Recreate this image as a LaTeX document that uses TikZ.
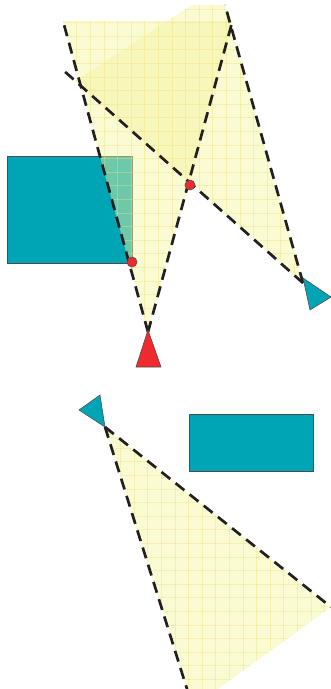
\documentclass[tikz,border=0pt]{standalone}
\usepackage{tikz}
\definecolor{obstacle}{HTML}{00A5B5}
\definecolor{conelight}{RGB}{244,243,157}
\definecolor{conegrid}{RGB}{236,226,120}
\definecolor{camred}{HTML}{EE2A2E}
\definecolor{ink}{RGB}{35,31,32}

\begin{document}
\begin{tikzpicture}[
  x=0.03cm,y=-0.03cm,
  obst/.style={fill=obstacle,draw=black!70,line width=0.5pt},
  conefill/.style={fill=conelight,fill opacity=0.45},
  gridln/.style={draw=conegrid,line width=0.5pt,opacity=0.4},
  ray/.style={draw=ink,line width=2.3pt,dash pattern=on 9.6pt off 5.8pt},
  camtri/.style={draw=ink!80,line width=0.5pt},
  hit/.style={circle,fill=camred,draw=ink!80,line width=0.5pt,inner sep=0pt,minimum size=8.6pt},
]
\useasboundingbox (0,0) rectangle (331,689);

% camera apexes and far ends of the rays
\coordinate (redcam) at (148,332);
\coordinate (redL) at (63,21);
\coordinate (redR) at (233,19);
\coordinate (rcam) at (303,283);
\coordinate (rcamL) at (63,70);
\coordinate (rcamR) at (225,5);
\coordinate (bcam) at (105,427);
\coordinate (bcamL) at (187,689);
\coordinate (bcamR) at (331,607);

% obstacles
\draw[obst] (7,156) rectangle (132,263);
\draw[obst] (189,414) rectangle (313,471);

% view cones
\fill[conefill] (redcam) -- (63,21) -- (233,21) -- cycle;
\fill[conefill] (rcam) -- (75,81) -- (192,5) -- (225,5) -- cycle;
\fill[conefill] (bcam) -- (bcamR) -- (218,689) -- (bcamL) -- cycle;

\begin{scope}
\clip (redcam) -- (63,21) -- (233,21) -- cycle
      (rcam) -- (75,81) -- (192,5) -- (225,5) -- cycle;
\foreach \g in {-1,...,25} {
  \draw[gridln] ({\g*13.6+8.6},0) -- ({\g*13.6+8.6},689);
  \draw[gridln] (0,{\g*13.6+8.8}) -- (331,{\g*13.6+8.8});
}
\end{scope}
\begin{scope}
\clip (bcam) -- (bcamR) -- (218,689) -- (bcamL) -- cycle;
\foreach \g in {-1,...,50} {
  \draw[gridln] ({\g*13.6+11.6},0) -- ({\g*13.6+11.6},689);
  \draw[gridln] (0,{\g*13.6+12.8}) -- (331,{\g*13.6+12.8});
}
\end{scope}

% rays
\draw[ray] (redcam) -- (redL);
\draw[ray] (redcam) -- (redR);
\draw[ray] (rcam) -- (rcamL);
\draw[ray] (rcam) -- (rcamR);
\draw[ray] (bcam) -- (bcamL);
\draw[ray] (bcam) -- (bcamR);

% cameras
\filldraw[camtri,fill=camred] (148,330) -- (136,367) -- (161,367) -- cycle;
\filldraw[camtri,fill=obstacle] (303,278) -- (310,310) -- (331,297) -- cycle;
\filldraw[camtri,fill=obstacle] (105,427) -- (79,410) -- (100,395) -- cycle;

% hit points
\node[hit] (hitA) at (190,185) {};
\node[hit] (hitB) at (132,262) {};
\end{tikzpicture}
\end{document}
